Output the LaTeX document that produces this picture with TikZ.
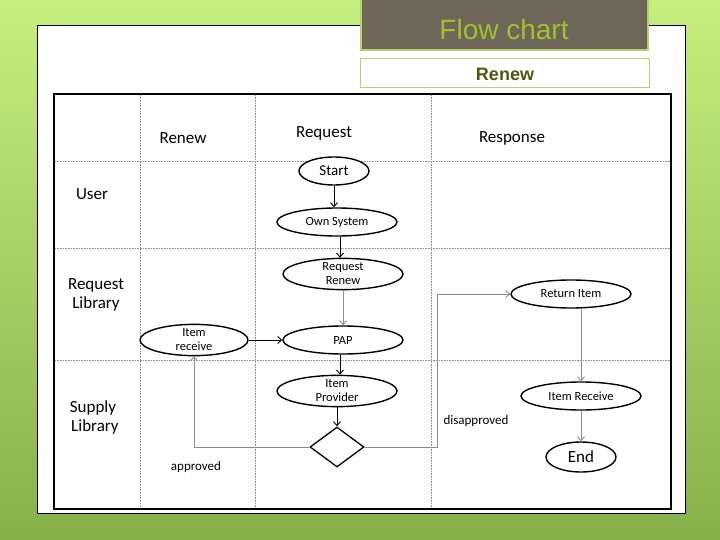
\documentclass[tikz,border=0pt]{standalone}
\usepackage{fontspec}
\setmainfont{Carlito}
\newfontfamily\arialf{Liberation Sans}
\usetikzlibrary{shapes.geometric,arrows.meta}
\definecolor{bgtop}{HTML}{C6EE7E}
\definecolor{bgbot}{HTML}{86B04A}
\definecolor{titlebg}{HTML}{6E6658}
\definecolor{titlefg}{HTML}{A4BE2E}
\definecolor{frameg}{HTML}{B4D070}
\definecolor{subfg}{HTML}{4A5A10}
\tikzset{
  el/.style={ellipse, draw=black, line width=1.4pt, fill=white, inner sep=0pt, font=\fontsize{12.5}{13}\selectfont, align=center},
  el2/.style={el, font=\fontsize{12.5}{14}\selectfont},
  lane/.style={draw=black!45, densely dotted, line width=0.6pt},
  lanelabel/.style={font=\fontsize{17}{19}\selectfont, align=center},
  arr/.style={-{Straight Barb[length=4pt,width=7pt]}, line width=0.9pt},
  garr/.style={arr, draw=black!45},
  dec/.style={diamond, draw=black, line width=1.3pt, fill=white, minimum width=54pt, minimum height=40pt, inner sep=0pt, aspect=1.35}
}
\begin{document}
\begin{tikzpicture}[x=1pt,y=-1pt]
\useasboundingbox (0,0) rectangle (720,540);
\shade[top color=bgtop, bottom color=bgbot] (0,0) rectangle (720,540);
% outer white panel
\draw[fill=white, line width=1pt] (37,26) rectangle (685,513);
% title boxes
\draw[fill=titlebg, draw=frameg, line width=1.5pt] (361,-2) rectangle (648,50);
\node[font=\arialf\fontsize{28}{30}\selectfont, text=titlefg] (title) at (504,29) {Flow chart};
\draw[fill=white, draw=frameg, line width=1pt] (360,59) rectangle (649,88);
\node[font=\arialf\bfseries\fontsize{18}{20}\selectfont, text=subfg] (sub) at (505,74) {Renew};
% diagram frame
\draw[lane] (140,95) -- (140,508);
\draw[lane] (255,95) -- (255,508);
\draw[lane] (431,95) -- (431,508);
\draw[lane] (55,161) -- (670,161);
\draw[lane] (55,248) -- (670,248);
\draw[lane] (55,360) -- (670,360);
\draw[line width=1.6pt] (54,94) rectangle (671,509);
% lane labels
\node[lanelabel] (hrenew) at (183,138) {Renew};
\node[lanelabel] (hreq) at (324,133) {Request};
\node[lanelabel] (hresp) at (512,138) {Response};
\node[lanelabel] (luser) at (92,194) {User};
\node[lanelabel] (lreq) at (96,295) {Request\\Library};
\node[lanelabel] (lsup) at (93,417) {Supply\\\ Library};
% nodes
\node[el, minimum width=70pt, minimum height=28pt, font=\fontsize{15}{16}\selectfont] (start) at (334,171) {Start};
\node[el, minimum width=120pt, minimum height=28pt] (own) at (337,222) {Own System};
\node[el2, minimum width=120pt, minimum height=30pt] (rr) at (343,274) {Request\\Renew};
\node[el, minimum width=120pt, minimum height=28pt] (pap) at (343,340) {PAP};
\node[el2, minimum width=108pt, minimum height=28pt] (ir) at (194,340) {Item\\receive};
\node[el2, minimum width=120pt, minimum height=28pt] (ip) at (337,391) {Item\\Provider};
\node[dec] (dec) at (337,447) {};
\node[el, minimum width=120pt, minimum height=28pt] (ret) at (571,294) {Return Item};
\node[el, minimum width=120pt, minimum height=28pt] (irc) at (581,396) {Item Receive};
\node[el, minimum width=70pt, minimum height=30pt, font=\fontsize{17}{18}\selectfont] (end) at (581,457) {End};
% connectors
\draw[arr] (start) -- (own.north -| start);
\draw[arr] ([xshift=3pt]own.south) -- ([xshift=3pt]own.south |- rr.north);
\draw[garr] (rr) -- (pap);
\draw[arr] (ir) -- (pap);
\draw[arr] ([xshift=-3pt]pap.south) -- ([xshift=-3pt]pap.south |- ip.north);
\draw[arr] (ip) -- (dec);
\draw[garr] (dec.west) -| (ir.south);
\draw[garr] (dec.east) -- (437,447) |- (ret.west);
\draw[garr] ([xshift=10pt]ret.south) -- ([xshift=10pt]ret.south |- irc.north);
\draw[garr] (irc) -- (end);
% labels
\node[font=\fontsize{13}{14}\selectfont] (appr) at (196,467) {approved};
\node[font=\fontsize{13}{14}\selectfont] (disap) at (476,421) {disapproved};
\end{tikzpicture}
\end{document}
